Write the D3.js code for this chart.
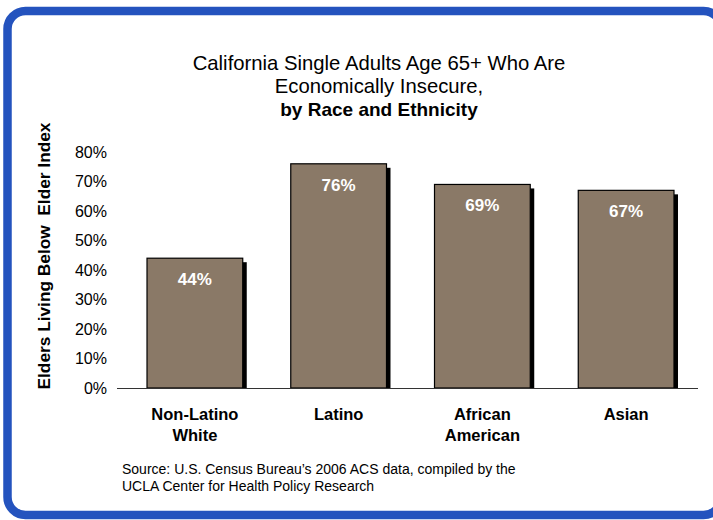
<!DOCTYPE html>
<html><head><meta charset="utf-8">
<script src="https://cdn.jsdelivr.net/npm/d3@7"></script>
<style>
html,body{margin:0;padding:0;background:#fff;overflow:hidden;}
svg{display:block;font-family:Arial,"Liberation Sans",sans-serif;}
</style></head>
<body>
<svg id="c" width="713" height="520"></svg>
<script>
const categories = [["Non-Latino","White"],["Latino"],["African","American"],["Asian"]];
const values = [44, 76, 69, 67];
const yTicks = [0,10,20,30,40,50,60,70,80];
const titleLines = ["California Single Adults Age 65+ Who Are","Economically Insecure,","by Race and Ethnicity"];
const yTitle = "Elders Living Below  Elder Index";
const sourceLines = ["Source:  U.S. Census Bureau\u2019s 2006 ACS data, compiled by the","UCLA Center for Health Policy Research"];

const svg = d3.select("#c");
// frame
svg.append("rect").attr("x",7.5).attr("y",11).attr("width",714).attr("height",504)
  .attr("rx",18).attr("fill","#fff").attr("stroke","#2453BE").attr("stroke-width",8.5);

const x = d3.scaleBand().domain(d3.range(categories.length)).range([123,698]).paddingInner(0.334).paddingOuter(0.167);
const y = d3.scaleLinear().domain([0,80]).range([388,152]);

// title
const t = svg.append("text").attr("text-anchor","middle").attr("fill","#000");
titleLines.forEach((l,i)=>{
  t.append("tspan").attr("x",379).attr("y",70+i*23).text(l)
   .attr("font-size",i===2?"19px":"20.3px").attr("font-weight",i===2?"bold":"normal");
});

// y axis labels
const ya = svg.append("g").attr("transform","translate(122,0)")
  .call(d3.axisLeft(y).tickValues(yTicks).tickFormat(d=>d+"%").tickSize(0).tickPadding(15));
ya.select(".domain").remove();
ya.selectAll("text").attr("font-size","16px").attr("font-family","Arial,'Liberation Sans',sans-serif").attr("fill","#000");

// y title
svg.append("text").attr("transform","translate(50,256) rotate(-90)").attr("text-anchor","middle")
  .attr("font-size","17.3px").attr("font-weight","bold").attr("fill","#000").style("white-space","pre").text(yTitle);

// bars shadow
const bw = x.bandwidth();
svg.selectAll("rect.sh").data(values).join("rect").attr("class","sh")
  .attr("x",(d,i)=>x(i)+4).attr("y",d=>y(d)+4).attr("width",bw).attr("height",d=>y(0)-y(d)-4).attr("fill","#000");
svg.selectAll("rect.bar").data(values).join("rect").attr("class","bar")
  .attr("x",(d,i)=>x(i)).attr("y",d=>y(d)).attr("width",bw).attr("height",d=>y(0)-y(d))
  .attr("fill","#8A7967").attr("stroke","#000").attr("stroke-width",1.2);

// x axis line
svg.append("line").attr("x1",x.range()[0]).attr("x2",x.range()[1]).attr("y1",y(0)+0.5).attr("y2",y(0)+0.5)
  .attr("stroke","#333").attr("stroke-width",1);
svg.append("line").attr("x1",117).attr("x2",123).attr("y1",y(0)+0.5).attr("y2",y(0)+0.5).attr("stroke","#333");

// value labels
svg.selectAll("text.val").data(values).join("text").attr("class","val")
  .attr("x",(d,i)=>x(i)+bw/2).attr("y",d=>y(d)+27).attr("text-anchor","middle")
  .attr("font-size","17px").attr("font-weight","bold").attr("fill","#fff").text(d=>d+"%");

// category labels
categories.forEach((c,i)=>{
  const tx = svg.append("text").attr("text-anchor","middle").attr("font-size","16.5px").attr("font-weight","bold").attr("fill","#000");
  c.forEach((l,j)=>tx.append("tspan").attr("x",x(i)+bw/2).attr("y",420+j*21).text(l));
});

// source
const s = svg.append("text").attr("font-size","14px").attr("fill","#000");
sourceLines.forEach((l,i)=>s.append("tspan").attr("x",122).attr("y",474+i*17).text(l));
</script>
</body></html>
